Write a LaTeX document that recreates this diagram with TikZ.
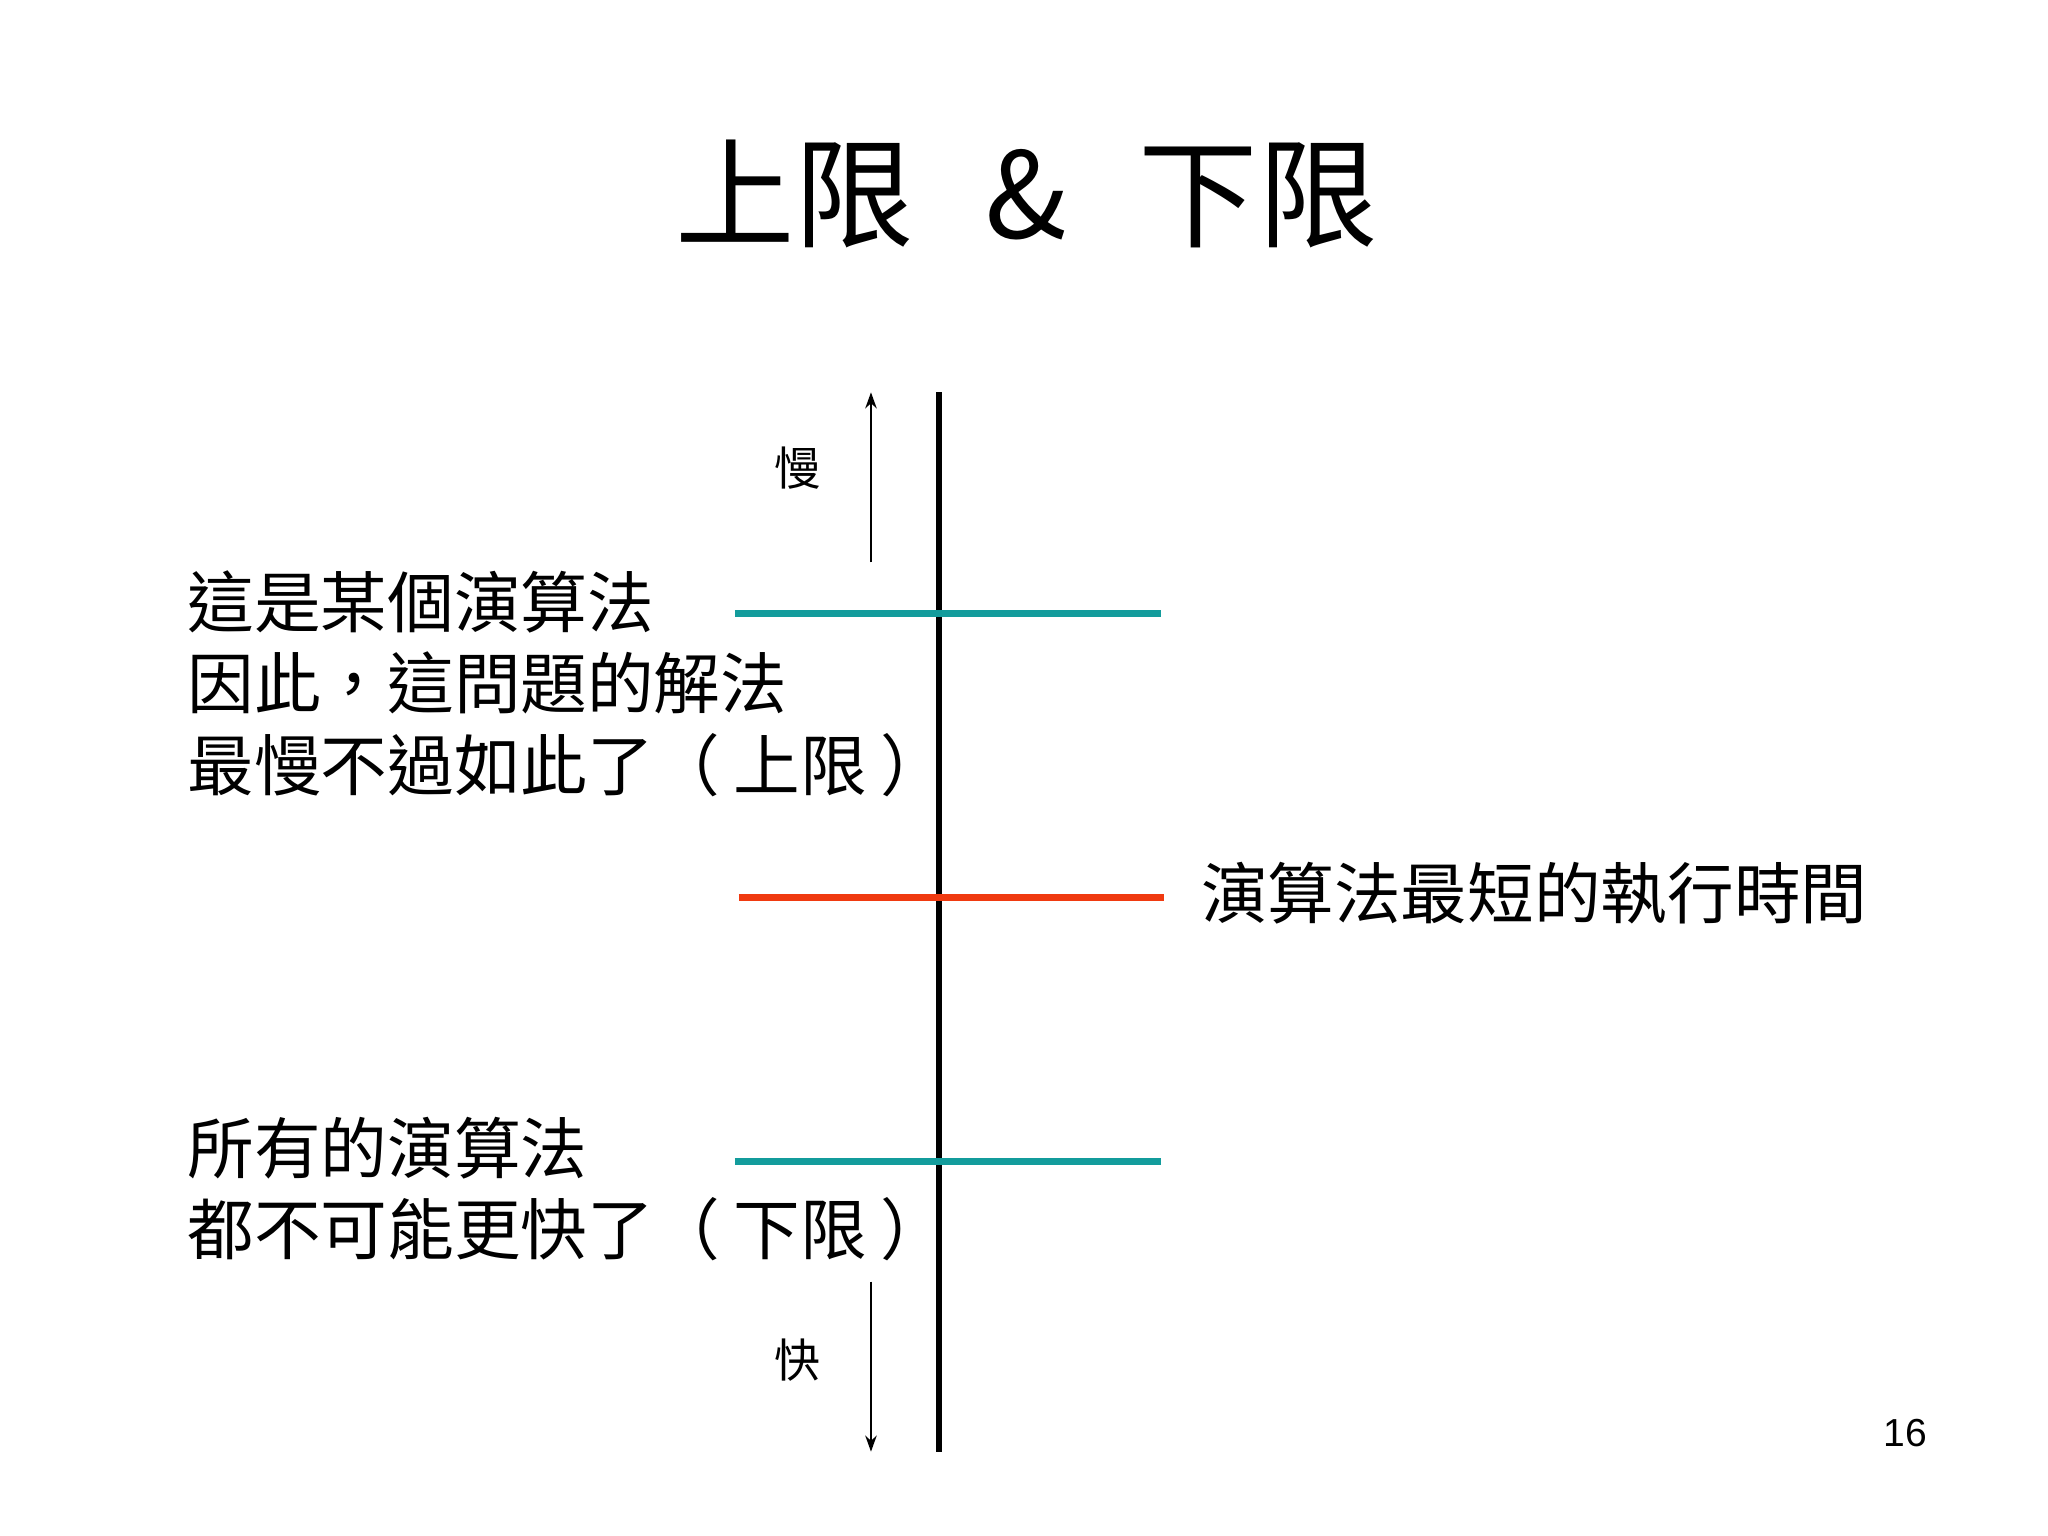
\documentclass[tikz,border=0pt]{standalone}
\usepackage{fontspec}
\setmainfont{Liberation Sans}
\newfontfamily\cjk{Noto Sans CJK TC}
\usetikzlibrary{arrows.meta}
\begin{document}
\begin{tikzpicture}[x=0.02cm,y=-0.02cm,
  txt/.style={anchor=west,inner sep=0pt,font=\cjk\fontsize{29}{35}\selectfont},
  lim/.style={line width=3pt}]
\useasboundingbox[fill=white] (0,0) rectangle (1566,1174.5);
\definecolor{teal1}{HTML}{139C9C}
\definecolor{red1}{HTML}{F03A10}
\node[inner sep=0pt,font=\cjk\fontsize{52}{60}\selectfont] (title) at (785,148) {上限\hspace{0.6em}\&\hspace{0.6em}下限};
\coordinate (vt) at (718,300); \coordinate (vb) at (718,1110);
\draw[line width=3pt] (vt) -- (vb);
\coordinate (a1) at (666,430); \coordinate (a2) at (666,300);
\coordinate (b1) at (666,980); \coordinate (b2) at (666,1110);
\draw[-{Stealth[length=7pt,width=5pt]},line width=0.8pt] (a1) -- (a2);
\draw[-{Stealth[length=7pt,width=5pt]},line width=0.8pt] (b1) -- (b2);
\node[inner sep=0pt,font=\cjk\fontsize{20}{24}\selectfont] (slow) at (610,358) {慢};
\node[inner sep=0pt,font=\cjk\fontsize{20}{24}\selectfont] (fast) at (610,1040) {快};
\coordinate (t1a) at (562,469); \coordinate (t1b) at (888,469);
\coordinate (ra) at (565,686); \coordinate (rb) at (890,686);
\coordinate (t2a) at (562,888); \coordinate (t2b) at (888,888);
\draw[lim,teal1] (t1a) -- (t1b);
\draw[lim,red1] (ra) -- (rb);
\draw[lim,teal1] (t2a) -- (t2b);
\node[txt] (l1) at (143,460) {這是某個演算法};
\node[txt] (l2) at (143,522) {因此，這問題的解法};
\node[txt] (l3) at (143,585) {最慢不過如此了（\hspace{0.2em}上限\hspace{0.2em}）};
\node[txt] (l4) at (143,878) {所有的演算法};
\node[txt] (l5) at (143,940) {都不可能更快了（\hspace{0.2em}下限\hspace{0.2em}）};
\node[txt] (r1) at (918,683) {演算法最短的執行時間};
\node[inner sep=0pt,font=\fontsize{17}{20}\selectfont] (pg) at (1457,1096) {16};
\end{tikzpicture}
\end{document}
